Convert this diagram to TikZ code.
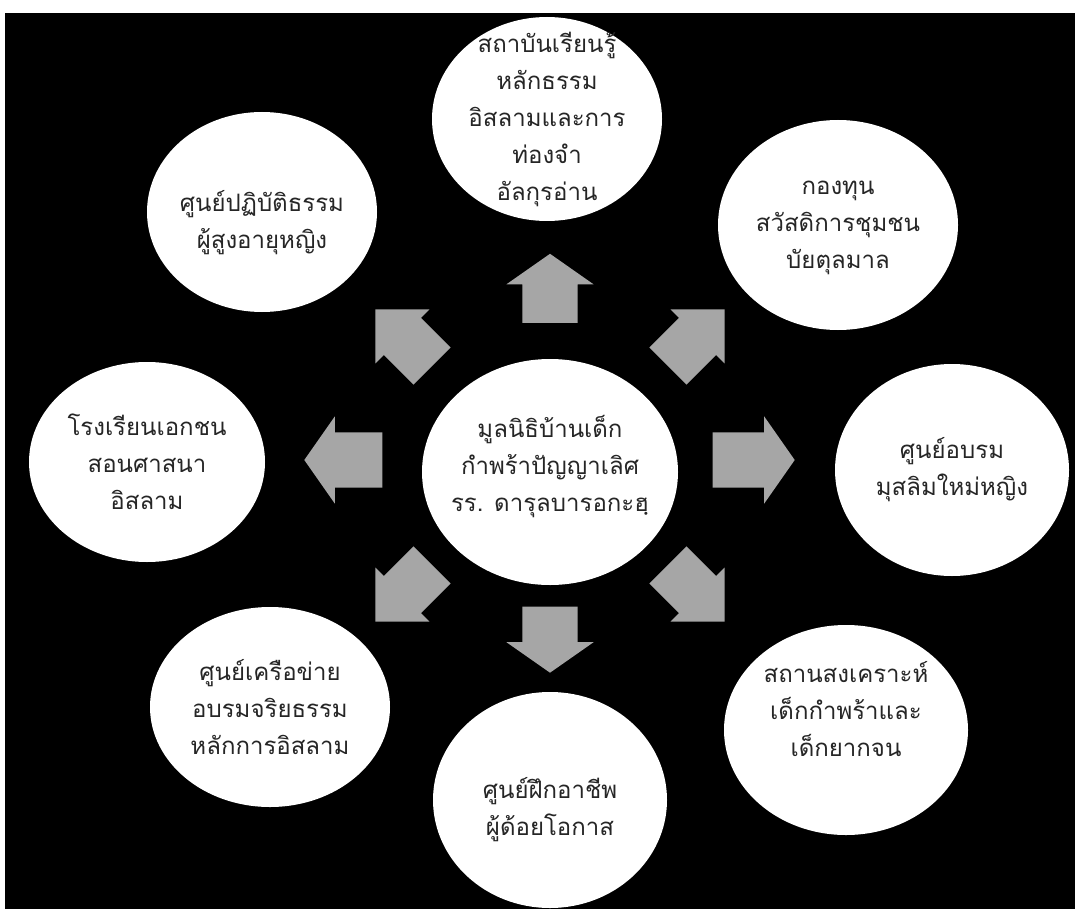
\documentclass[tikz,border=0pt]{standalone}
\usepackage{fontspec}
\newfontfamily\thaifont[Script=Thai]{Loma}
\usetikzlibrary{shapes.geometric,shapes.arrows}
\definecolor{arrowgray}{HTML}{A6A6A6}

\begin{document}
\begin{tikzpicture}
  [
      x=1pt, y=-1pt,
      bubble/.style args={#1/#2}{ellipse, fill=white, inner sep=0pt, minimum width=#1pt, minimum height=#2pt},
      bubbletext/.style={align=center, text=black!85, font=\thaifont\fontsize{24}{37}\selectfont},
      fatarrow/.style={single arrow, fill=arrowgray, inner xsep=0pt, inner ysep=27.5pt, minimum height=#1pt, single arrow head extend=16pt, single arrow tip angle=110},
      diagarrow/.style={single arrow, fill=arrowgray, inner xsep=0pt, inner ysep=26pt, minimum height=80pt, single arrow head extend=12pt, single arrow tip angle=90},
    ]

    \useasboundingbox (0,0) rectangle (1075,909);
    \fill[white] (0,0) rectangle (1075,909);
    \fill[black] (5,13) rectangle (1075,909);

    % the hub and the eight bubbles round it
    \node (hub) [bubble=256/226, label={[bubbletext, yshift=5pt]center:มูลนิธิบ้านเด็ก\\กำพร้าปัญญาเลิศ\\รร. ดารุลบารอกะฮฺ}] at (550,472) {};
    \node (inst) [bubble=230/204, label={[bubbletext]center:สถาบันเรียนรู้\\หลักธรรม\\อิสลามและการ\\ท่องจำ\\อัลกุรอ่าน}] at (547,119) {};
    \node (fund) [bubble=240/210, label={[bubbletext, yshift=-3pt]center:กองทุน\\สวัสดิการชุมชน\\บัยตุลมาล}] at (838,225) {};
    \node (train) [bubble=234/212, label={[bubbletext]center:ศูนย์อบรม\\มุสลิมใหม่หญิง}] at (952,470) {};
    \node (shelter) [bubble=244/210, label={[bubbletext, yshift=21pt]center:สถานสงเคราะห์\\เด็กกำพร้าและ\\เด็กยากจน}] at (846,730) {};
    \node (job) [bubble=234/216, label={[bubbletext, yshift=-10pt]center:ศูนย์ฝึกอาชีพ\\ผู้ด้อยโอกาส}] at (550,800) {};
    \node (net) [bubble=240/200, label={[bubbletext]center:ศูนย์เครือข่าย\\อบรมจริยธรรม\\หลักการอิสลาม}] at (270,707) {};
    \node (school) [bubble=236/200, label={[bubbletext]center:โรงเรียนเอกชน\\สอนศาสนา\\อิสลาม}] at (147,462) {};
    \node (elder) [bubble=230/200, label={[bubbletext, yshift=-11pt]center:ศูนย์ปฏิบัติธรรม\\ผู้สูงอายุหญิง}] at (262,212) {};

    % block arrows pointing out of the hub
    \node (aup) [fatarrow=69, rotate=90] at (550,298) {};
    \node (adown) [fatarrow=66, rotate=-90] at (550,630) {};
    \node (aleft) [fatarrow=78, rotate=180] at (353,460) {};
    \node (aright) [fatarrow=82] at (744,460) {};
    \node (aul) [diagarrow, rotate=135] at (413,347) {};
    \node (aur) [diagarrow, rotate=45] at (687,347) {};
    \node (adl) [diagarrow, rotate=225] at (413,584) {};
    \node (adr) [diagarrow, rotate=-45] at (687,584) {};
  \end{tikzpicture}
\end{document}
